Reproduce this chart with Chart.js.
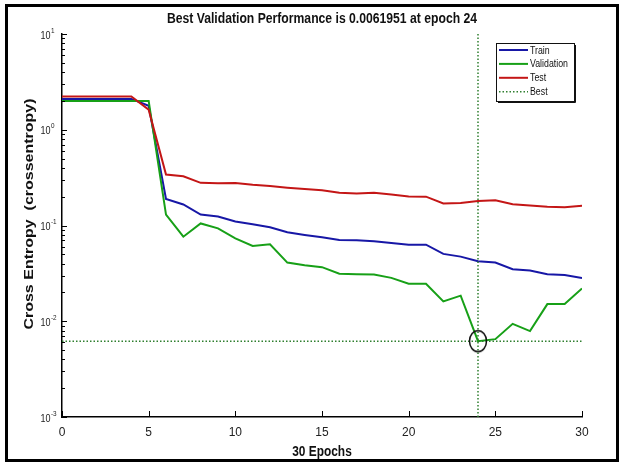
<!DOCTYPE html>
<html>
<head>
<meta charset="utf-8">
<title>Cross Entropy per Epoch</title>
<script src="https://cdn.jsdelivr.net/npm/chart.js@4.4.1/dist/chart.umd.min.js"></script>
<style>
    html, body { margin: 0; padding: 0; background: #fff; }
    #wrap { position: relative; width: 623px; height: 466px; }
</style>
</head>
<body>
<div id="wrap"><canvas id="perfChart" width="623" height="466"></canvas></div>
<script>
var epochs = [0, 1, 2, 3, 4, 5, 6, 7, 8, 9, 10, 11, 12, 13, 14, 15, 16, 17, 18, 19, 20, 21, 22, 23, 24, 25, 26, 27, 28, 29, 30];
var trainLoss = [2.1, 2.1, 2.1, 2.1, 2.1, 1.78, 0.189, 0.166, 0.130, 0.124, 0.110, 0.103, 0.0957, 0.085, 0.0797, 0.0753, 0.0706, 0.0703, 0.0685, 0.0657, 0.063, 0.063, 0.0505, 0.0473, 0.0424, 0.041, 0.035, 0.0339, 0.031, 0.0304, 0.0282];
var validationLoss = [2.0, 2.0, 2.0, 2.0, 2.0, 2.0, 0.13, 0.0764, 0.105, 0.0934, 0.0735, 0.0611, 0.0637, 0.041, 0.0385, 0.0367, 0.0313, 0.031, 0.0307, 0.0284, 0.0246, 0.0246, 0.0161, 0.0185, 0.0061951, 0.0065, 0.0094, 0.0079, 0.0151, 0.0151, 0.022];
var testLoss = [2.23, 2.23, 2.23, 2.23, 2.23, 1.62, 0.341, 0.327, 0.279, 0.277, 0.278, 0.266, 0.258, 0.248, 0.24, 0.234, 0.22, 0.216, 0.22, 0.211, 0.201, 0.2, 0.170, 0.172, 0.18, 0.183, 0.167, 0.162, 0.157, 0.155, 0.161];
var bestEpoch = 24;
var bestValue = validationLoss[bestEpoch];

var xTicks = [0, 5, 10, 15, 20, 25, 30];
var yTicks = [0.001, 0.01, 0.1, 1, 10];
var yTickExponents = ['-3', '-2', '-1', '0', '1'];

var colors = { train: '#1717a6', validation: '#17a017', test: '#c41616', best: '#2f7f2f' };
var sansFont = "'Liberation Sans', Arial, sans-serif";

function points(values) {
    return epochs.map(function (e, i) { return { x: e, y: values[i] }; });
}

// text drawn a little narrower than the font's natural width
function squeezeText(ctx, text, x, y, factor) {
    var w = ctx.measureText(text).width;
    ctx.fillText(text, x, y, w * factor);
}

// open elliptical ring marking the best epoch
function ringMarker() {
    var c = document.createElement('canvas');
    c.width = 22;
    c.height = 26;
    var g = c.getContext('2d');
    g.strokeStyle = '#111';
    g.lineWidth = 1.5;
    g.beginPath();
    g.ellipse(11, 13, 8.5, 10.5, 0, 0, Math.PI * 2);
    g.stroke();
    return c;
}

var axisDecor = {
    id: 'axisDecor',
    afterDraw: function (chart) {
        var ctx = chart.ctx;
        var area = chart.chartArea;
        var xs = chart.scales.x;
        var ys = chart.scales.y;

        ctx.save();

        // inward tick marks, minor ones on the log axis
        ctx.strokeStyle = '#000';
        ctx.lineWidth = 1;
        ctx.beginPath();
        xTicks.forEach(function (t) {
            var px = Math.round(xs.getPixelForValue(t)) + 0.5;
            ctx.moveTo(px, area.bottom);
            ctx.lineTo(px, area.bottom - 6);
        });
        yTicks.forEach(function (t, i) {
            var py = Math.round(ys.getPixelForValue(t)) + 0.5;
            ctx.moveTo(area.left, py);
            ctx.lineTo(area.left + 5, py);
            if (i < yTicks.length - 1) {
                for (var m = 2; m <= 9; m++) {
                    var my = Math.round(ys.getPixelForValue(t * m)) + 0.5;
                    ctx.moveTo(area.left, my);
                    ctx.lineTo(area.left + 3, my);
                }
            }
        });
        ctx.stroke();

        // 10^n labels with raised exponent
        ctx.fillStyle = '#222';
        ctx.textBaseline = 'middle';
        yTicks.forEach(function (t, i) {
            var py = ys.getPixelForValue(t);
            ctx.font = '11px ' + sansFont;
            ctx.textAlign = 'right';
            squeezeText(ctx, '10', area.left - 11.5, py + 1.5, 0.82);
            ctx.font = '7.5px ' + sansFont;
            ctx.textAlign = 'left';
            squeezeText(ctx, yTickExponents[i], area.left - 11, py - 3.5, 0.85);
        });

        // titles
        ctx.fillStyle = '#111';
        ctx.textAlign = 'center';
        ctx.font = 'bold 14px ' + sansFont;
        squeezeText(ctx, 'Best Validation Performance is ' + bestValue + ' at epoch ' + bestEpoch,
            (area.left + area.right) / 2, 19, 0.87);
        ctx.font = 'bold 14px ' + sansFont;
        squeezeText(ctx, '30 Epochs', (area.left + area.right) / 2, 452, 0.85);

        ctx.save();
        ctx.translate(29, 214);
        ctx.rotate(-Math.PI / 2);
        ctx.scale(1, 0.8);
        ctx.font = 'bold 16px ' + sansFont;
        ctx.fillText('Cross Entropy  (crossentropy)', 0, 0);
        ctx.restore();

        // legend box
        var lx = 496, ly = 43, lw = 78, lh = 58;
        ctx.fillStyle = '#fff';
        ctx.fillRect(lx, ly, lw, lh);
        ctx.strokeStyle = '#111';
        ctx.lineWidth = 1;
        ctx.strokeRect(lx + 0.5, ly + 0.5, lw, lh);
        ctx.beginPath();
        ctx.moveTo(lx + lw + 1.5, ly + 2);
        ctx.lineTo(lx + lw + 1.5, ly + lh + 1.5);
        ctx.lineTo(lx + 2, ly + lh + 1.5);
        ctx.stroke();

        var entries = [
            { label: 'Train', color: colors.train, dotted: false },
            { label: 'Validation', color: colors.validation, dotted: false },
            { label: 'Test', color: colors.test, dotted: false },
            { label: 'Best', color: colors.best, dotted: true }
        ];
        ctx.font = '11px ' + sansFont;
        ctx.textAlign = 'left';
        entries.forEach(function (e, i) {
            var ey = ly + 7 + i * 13.9;
            ctx.strokeStyle = e.color;
            ctx.lineWidth = e.dotted ? 1.5 : 2;
            ctx.setLineDash(e.dotted ? [1.5, 2] : []);
            ctx.beginPath();
            ctx.moveTo(lx + 3, ey);
            ctx.lineTo(lx + 32, ey);
            ctx.stroke();
            ctx.setLineDash([]);
            ctx.fillStyle = '#111';
            squeezeText(ctx, e.label, lx + 34, ey + 0.5, 0.8);
        });

        // outer frame
        ctx.strokeStyle = '#000';
        ctx.lineWidth = 3;
        ctx.strokeRect(6.5, 5.5, 611, 455);

        ctx.restore();
    }
};

new Chart(document.getElementById('perfChart').getContext('2d'), {
    type: 'line',
    data: {
        datasets: [{
            label: 'Best point',
            data: [{ x: bestEpoch, y: bestValue }],
            showLine: false,
            pointStyle: ringMarker(),
            pointRadius: 10,
            order: 0
        }, {
            label: 'Best (epoch)',
            data: [{ x: bestEpoch, y: yTicks[0] }, { x: bestEpoch, y: yTicks[yTicks.length - 1] }],
            borderColor: colors.best,
            borderWidth: 1.5,
            borderDash: [1.5, 2],
            pointRadius: 0,
            order: 1
        }, {
            label: 'Best (value)',
            data: [{ x: xTicks[0], y: bestValue }, { x: xTicks[xTicks.length - 1], y: bestValue }],
            borderColor: colors.best,
            borderWidth: 1.5,
            borderDash: [1.5, 2],
            pointRadius: 0,
            order: 1
        }, {
            label: 'Test',
            data: points(testLoss),
            borderColor: colors.test,
            borderWidth: 2,
            pointRadius: 0,
            order: 2
        }, {
            label: 'Validation',
            data: points(validationLoss),
            borderColor: colors.validation,
            borderWidth: 2,
            pointRadius: 0,
            order: 3
        }, {
            label: 'Train',
            data: points(trainLoss),
            borderColor: colors.train,
            borderWidth: 2,
            pointRadius: 0,
            order: 4
        }]
    },
    options: {
        responsive: false,
        animation: false,
        devicePixelRatio: 1,
        layout: { padding: { top: 34, right: 41, bottom: 0, left: 0 } },
        plugins: {
            legend: { display: false },
            tooltip: { enabled: false },
            title: { display: false }
        },
        scales: {
            x: {
                type: 'linear',
                min: 0,
                max: 30,
                afterBuildTicks: function (s) {
                    s.ticks = xTicks.map(function (v) { return { value: v }; });
                },
                afterFit: function (s) { s.height = 49; },
                grid: { display: false, drawTicks: false },
                border: { display: true, color: '#000', width: 1.5 },
                ticks: {
                    color: '#222',
                    padding: 8,
                    maxRotation: 0,
                    font: { size: 12, family: sansFont }
                }
            },
            y: {
                type: 'logarithmic',
                min: 0.001,
                max: 10,
                afterBuildTicks: function (s) {
                    s.ticks = yTicks.map(function (v) { return { value: v }; });
                },
                afterFit: function (s) { s.width = 62; },
                grid: { display: false, drawTicks: false },
                border: { display: true, color: '#000', width: 1.5 },
                ticks: { display: false }
            }
        }
    },
    plugins: [axisDecor]
});
</script>
</body>
</html>
